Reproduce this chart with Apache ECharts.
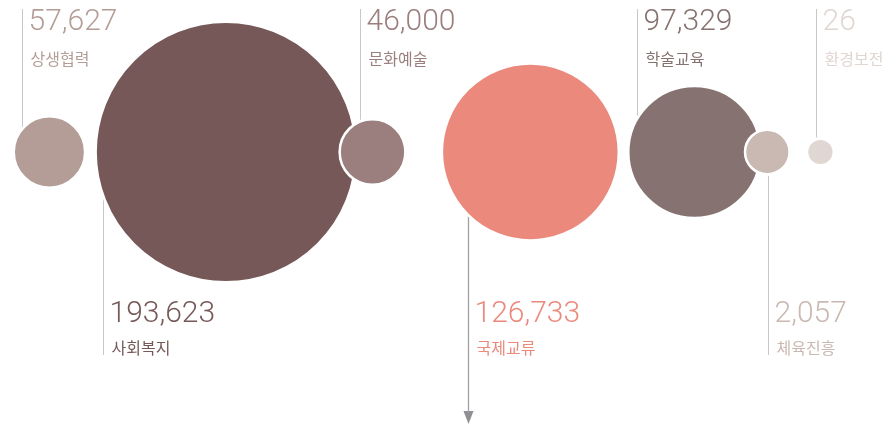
<!DOCTYPE html>
<html>
<head>
<meta charset="utf-8">
<script src="https://cdn.jsdelivr.net/npm/echarts@6/dist/echarts.min.js"></script>
<style>
  html, body { margin: 0; padding: 0; background: #fff; }
  #chart { width: 894px; height: 425px; }
</style>
</head>
<body>
<div id="chart"></div>
<script>
// Budget by field
const categories = ['상생협력', '사회복지', '문화예술', '국제교류', '학술교육', '체육진흥', '환경보전'];
const values = [57627, 193623, 46000, 126733, 97329, 2057, 26];

// Bubble colours (labels use the same tone)
const colors = ['#b49d97', '#765858', '#9b7f7e', '#eb897d', '#867270', '#cab8b2', '#e0d6d2'];

// Radius scale: piecewise-linear from value to pixels
const sizeDomain = [0, 2000, 60000, 100000, 120000, 200000];
const sizeRange = [12, 21, 35, 67, 83, 133];
function radius(v) {
  for (let k = 1; k < sizeDomain.length; k++) {
    if (v <= sizeDomain[k]) {
      const t = (v - sizeDomain[k - 1]) / (sizeDomain[k] - sizeDomain[k - 1]);
      return sizeRange[k - 1] + t * (sizeRange[k] - sizeRange[k - 1]);
    }
  }
  return sizeRange[sizeRange.length - 1];
}

// Horizontal packing: spacing between neighbouring bubble edges
const startEdge = 15;
const gaps = [13, -14, 39, 12, -13, 20];
// Leader lines: which side the caption sits, and where the line meets the bubble
const sides = ['top', 'bottom', 'top', 'bottom', 'top', 'bottom', 'top'];
const leaderShift = [0.81, 0.95, 0.41, 0.71, 0.89, -0.04, 0.33];
const arrowIndex = 3;

const centers = [];
values.forEach((v, i) => {
  const r = radius(v);
  if (i === 0) centers.push(startEdge + r);
  else centers.push(centers[i - 1] + radius(values[i - 1]) + gaps[i - 1] + r);
});

const seriesData = values.map((v, i) => [centers[i], 0, v]);

const numFont = '300 30px Roboto';
const nameFont = '16px "Noto Sans CJK KR"';

const chart = echarts.init(document.getElementById('chart'), null, { renderer: 'canvas' });

chart.setOption({
  animation: false,
  backgroundColor: '#ffffff',
  grid: { left: 0, right: 0, top: 0, height: 304 },
  xAxis: { type: 'value', min: 0, max: 894, show: false },
  yAxis: { type: 'value', min: -1, max: 1, show: false },
  series: [{
    type: 'custom',
    clip: false,
    data: seriesData,
    encode: { x: 0, y: 1 },
    renderItem: function (params, api) {
      const i = params.dataIndex;
      const p = api.coord([api.value(0), api.value(1)]);
      const cx = p[0], cy = p[1];
      const r = radius(api.value(2));
      const color = colors[i];
      const lineX = Math.round(cx - leaderShift[i] * r) + 0.5;
      const dx = cx - lineX;
      const half = Math.sqrt(Math.max(r * r - dx * dx, 0));
      const children = [];

      children.push({
        type: 'circle',
        shape: { cx: cx, cy: cy, r: r + 1.25 },
        style: { fill: color, stroke: '#ffffff', lineWidth: 2.5 },
        z2: 10
      });

      const numText = api.value(2).toLocaleString('en-US');
      if (sides[i] === 'top') {
        children.push({
          type: 'line',
          shape: { x1: lineX, y1: 9, x2: lineX, y2: cy - half - 3 },
          style: { stroke: '#c8c8c8', lineWidth: 1 },
          z2: 1
        });
        children.push({
          type: 'text',
          style: {
            x: lineX + 6, y: 22, text: numText, fill: color,
            font: numFont, verticalAlign: 'middle', align: 'left'
          }
        });
        children.push({
          type: 'text',
          style: {
            x: lineX + 8, y: 59, text: categories[i], fill: color,
            font: nameFont, verticalAlign: 'middle', align: 'left'
          }
        });
      } else {
        const isArrow = i === arrowIndex;
        const endY = isArrow ? 413 : 355;
        children.push({
          type: 'line',
          shape: { x1: lineX, y1: cy + half + 3, x2: lineX, y2: endY },
          style: { stroke: isArrow ? '#a0a0a4' : '#c8c8c8', lineWidth: isArrow ? 1.3 : 1 },
          z2: 1
        });
        if (isArrow) {
          children.push({
            type: 'polygon',
            shape: { points: [[lineX - 5, 411], [lineX + 5, 411], [lineX, 424]] },
            style: { fill: '#8e8e93' }
          });
        }
        children.push({
          type: 'text',
          style: {
            x: lineX + 6, y: 314, text: numText, fill: color,
            font: numFont, verticalAlign: 'middle', align: 'left'
          }
        });
        children.push({
          type: 'text',
          style: {
            x: lineX + 8, y: 348, text: categories[i], fill: color,
            font: nameFont, verticalAlign: 'middle', align: 'left'
          }
        });
      }
      return { type: 'group', children: children };
    }
  }]
});
</script>
</body>
</html>
